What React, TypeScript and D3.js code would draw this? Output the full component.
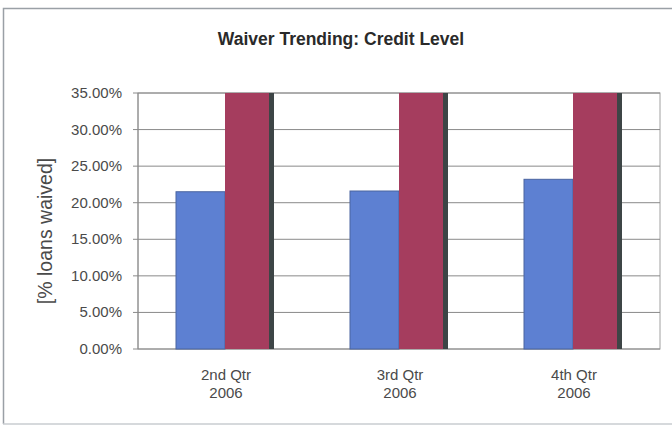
import React from "react";
import * as d3 from "d3";

const categories = ["2nd Qtr|2006", "3rd Qtr|2006", "4th Qtr|2006"];
const seriesA = [21.5, 21.6, 23.2];
const seriesB = [35, 35, 35];
const yTicks = [0, 5, 10, 15, 20, 25, 30, 35];

const W = 672, H = 427;
const plot = { left: 138, right: 660, top: 93, bottom: 349 };

export default function App() {
  const x = d3.scaleBand().domain(categories).range([plot.left, plot.right]).padding(0);
  const y = d3.scaleLinear().domain([0, 35]).range([plot.bottom, plot.top]);
  const barW = 49;
  const font = "Arial, 'Liberation Sans', sans-serif";
  return (
    <svg width={W} height={H} style={{ position: "fixed", left: 0, top: 0, background: "#fff" }}>
      <rect x={0} y={0} width={W} height={H} fill="#fff" />
      <path d={`M3.5,${H - 3} V8.5 H${W + 2}`} fill="none" stroke="#9aa0a6" strokeWidth={1.5} />
      <line x1={3} x2={W} y1={424} y2={424} stroke="#c8ccd0" strokeWidth={1.5} />
      <text x={341} y={45} textAnchor="middle" fontFamily={font} fontWeight="bold" fontSize={17.5} fill="#2a2a2a">
        Waiver Trending: Credit Level
      </text>
      <rect x={plot.left} y={plot.top} width={plot.right - plot.left} height={plot.bottom - plot.top} fill="#fff" stroke="#a0a0a0" />
      {yTicks.map((t) => (
        <g key={t}>
          <line x1={plot.left - 5} x2={plot.right} y1={y(t)} y2={y(t)} stroke="#8a8a8a" strokeWidth={1} />
          <text x={122} y={y(t) + 5} textAnchor="end" fontFamily={font} fontSize={15} fill="#4a4a4a">
            {t.toFixed(2)}%
          </text>
        </g>
      ))}
      {categories.map((c, i) => {
        const cx = (x(c) as number) + x.bandwidth() / 2;
        return (
          <g key={c}>
            <rect x={cx - barW} y={y(seriesA[i])} width={barW} height={y(0) - y(seriesA[i])} fill="#5d80d2" stroke="#4a64a0" strokeWidth={1} />
            <rect x={cx} y={y(seriesB[i])} width={barW} height={y(0) - y(seriesB[i])} fill="#a53d5e" />
            <rect x={cx + barW - 5} y={y(seriesB[i])} width={5} height={y(0) - y(seriesB[i])} fill="#3d4546" />
            {c.split("|").map((line, k) => (
              <text key={k} x={cx + 1} y={380 + k * 18} textAnchor="middle" fontFamily={font} fontSize={15} fill="#4a4a4a">
                {line}
              </text>
            ))}
          </g>
        );
      })}
      <line x1={plot.left} x2={plot.left} y1={plot.top} y2={plot.bottom} stroke="#8a8a8a" />
      <text transform={`translate(52,231) rotate(-90)`} textAnchor="middle" fontFamily={font} fontSize={19.5} fill="#4a4a4a">
        [% loans waived]
      </text>
    </svg>
  );
}
